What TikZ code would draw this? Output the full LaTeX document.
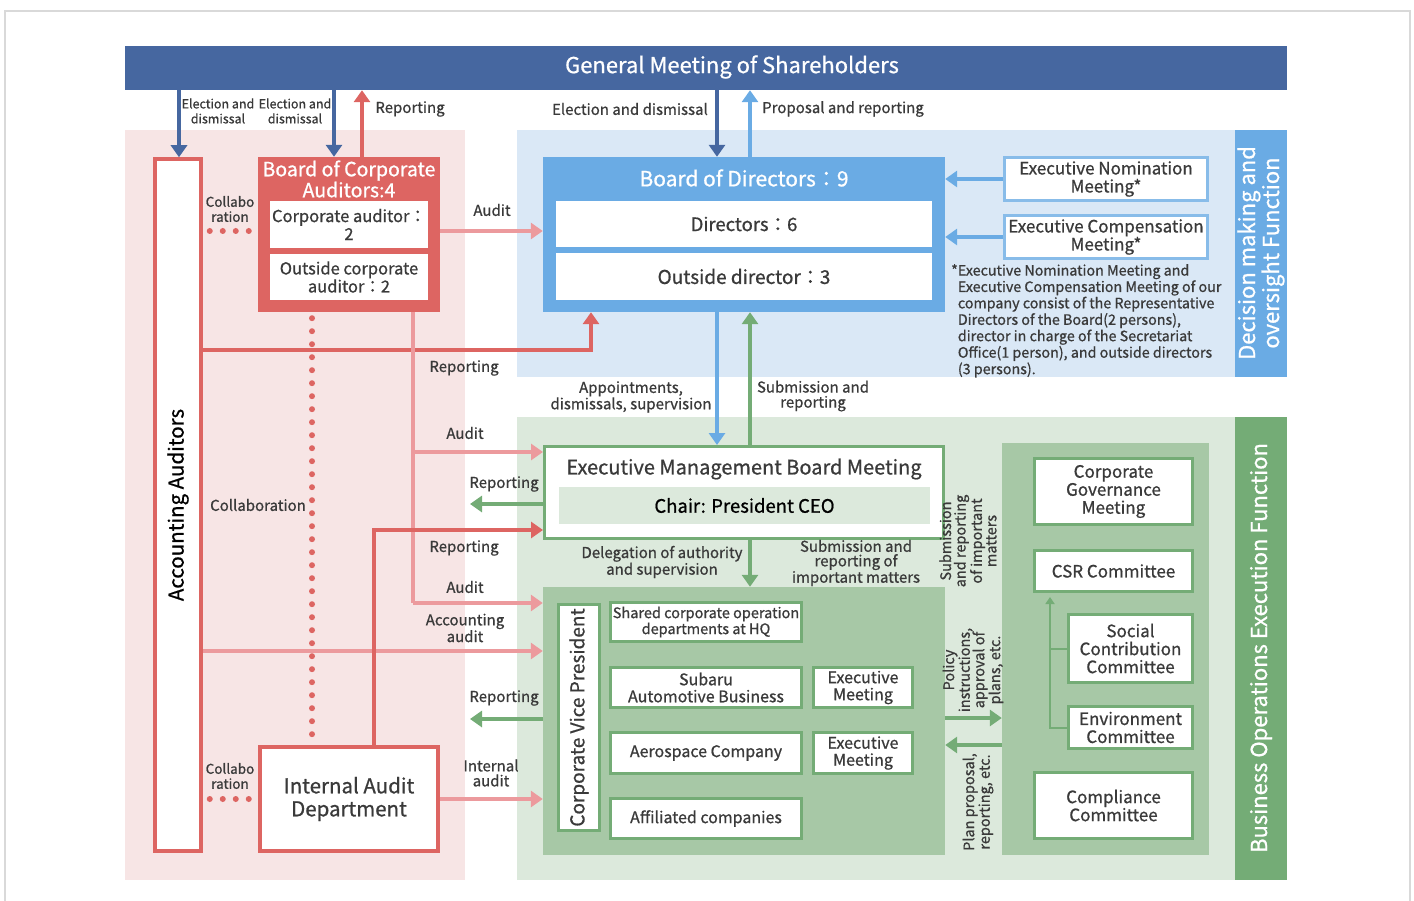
\documentclass[tikz,border=0pt]{standalone}
\usepackage{fontspec}
\setmainfont{Noto Sans CJK JP}[FakeBold=0.8]
\usetikzlibrary{arrows.meta}
\definecolor{navy}{HTML}{4667A0}
\definecolor{skyblue}{HTML}{6AABE4}
\definecolor{paleblue}{HTML}{DAE8F6}
\definecolor{palepink}{HTML}{F7E5E5}
\definecolor{audred}{HTML}{DD6562}
\definecolor{audpink}{HTML}{EC9A9D}
\definecolor{execgreen}{HTML}{74AC76}
\definecolor{palegreen}{HTML}{DCE9DC}
\definecolor{midgreen}{HTML}{A7C8A6}
\definecolor{ink}{HTML}{3A3A3A}
\begin{document}
\begin{tikzpicture}[x=1pt, y=-1pt,
    box/.style={fill=white, inner sep=0pt, align=center, text=ink, font=\fontsize{16.5}{18}\selectfont},
    gbox/.style={box, draw=execgreen, line width=3pt},
    rbox/.style={box, draw=audred, line width=3.5pt},
    bbox/.style={box, draw=skyblue!80, line width=3pt},
    lbl/.style={inner sep=0pt, align=center, text=ink, font=\fontsize{15}{15}\selectfont},
    slbl/.style={lbl, font=\fontsize{12.5}{15}\selectfont},
    tab/.style={rotate=90, text=white, align=center, inner sep=0pt, font=\fontsize{22}{22}\selectfont},
    arr/.style={line width=4pt, -{Triangle[width=16pt,length=12pt]}},
    dots/.style={audred, line width=6pt, line cap=round, dash pattern=on 0pt off 13pt},
    >=stealth
]
\useasboundingbox (0,0) rectangle (1414,901);
% backgrounds
\draw[black!15, line width=1.5pt] (5,905) -- (5,11) -- (1410,11) -- (1410,905);
\fill[palepink] (125,130) rectangle (465,880);
\fill[paleblue] (517,130) rectangle (1235,377);
\fill[skyblue] (1235,130) rectangle (1287,377);
\fill[palegreen] (517,417) rectangle (1235,880);
\fill[execgreen] (1235,417) rectangle (1287,880);
\node[tab] (fnDec) at (1261,253) {Decision making and\\oversight Function};
\node[tab] (fnBiz) at (1261,648) {Business Operations Execution Function};

% shareholders
\node[fill=navy, minimum width=1162pt, minimum height=44pt, inner sep=0pt] (gms) at (706,68) {};
\node[text=white, inner sep=0pt, font=\fontsize{22}{22}\selectfont] (gmsT) at (732,67) {General Meeting of Shareholders};

% audit side
\node[rbox, minimum width=46pt, minimum height=692pt] (acc) at (178,505) {};
\node[rotate=90, text=black, inner sep=0pt, font=\fontsize{20.5}{21}\selectfont] (accT) at (acc.center) {Accounting Auditors};
\node[fill=audred, minimum width=182pt, minimum height=155pt, inner sep=0pt] (boca) at (349,234.5) {};
\node[text=white, align=center, inner sep=0pt, font=\fontsize{19.5}{19}\selectfont] (bocaT) at (349,179) {Board of Corporate\\Auditors:4};
\node[box, minimum width=158pt, minimum height=47pt] (ca1) at (349,224.5) {Corporate auditor：\\2};
\node[box, minimum width=158pt, minimum height=46pt] (ca2) at (349,277) {Outside corporate\\auditor：2};
\node[rbox, minimum width=178pt, minimum height=104pt, font=\fontsize{20.5}{23}\selectfont] (iad) at (349,799) {Internal Audit\\Department};

% board of directors
\node[fill=skyblue, minimum width=402pt, minimum height=155pt, inner sep=0pt] (bod) at (744,234.5) {};
\node[text=white, inner sep=0pt, font=\fontsize{21}{21}\selectfont] (bodT) at (744,178) {Board of Directors：9};
\node[box, minimum width=376pt, minimum height=46pt, font=\fontsize{18.5}{20}\selectfont] (dir) at (744,224) {Directors：6};
\node[box, minimum width=376pt, minimum height=47pt, font=\fontsize{19}{20}\selectfont] (odir) at (744,276.5) {Outside director：3};
\node[bbox, minimum width=203pt, minimum height=43pt, font=\fontsize{17}{18}\selectfont] (nom) at (1106,179) {Executive Nomination\\Meeting*};
\node[bbox, minimum width=203pt, minimum height=43pt, font=\fontsize{17}{18}\selectfont] (comp) at (1106,237) {Executive Compensation\\Meeting*};
\node[anchor=north west, inner sep=0pt, text=ink, font=\fontsize{14.3}{16}\selectfont] (note) at (951,264) {%
  \begin{tabular}{@{}l@{}l@{}}
  *&Executive Nomination Meeting and\\
   &Executive Compensation Meeting of our\\
   &company consist of the Representative\\
   &Directors of the Board(2 persons),\\
   &director in charge of the Secretariat\\
   &Office(1 person), and outside directors\\
   &(3 persons).
  \end{tabular}};

% execution side
\node[gbox, minimum width=399pt, minimum height=92pt] (emb) at (744,492.5) {};
\node[text=ink, inner sep=0pt, font=\fontsize{20}{21}\selectfont] (embT) at (744,469) {Executive Management Board Meeting};
\node[fill=palegreen, text=black, minimum width=371pt, minimum height=37pt, inner sep=0pt, font=\fontsize{18.5}{20}\selectfont] (chair) at (744.5,505.5) {Chair: President CEO};
\node[fill=midgreen, minimum width=402pt, minimum height=268pt, inner sep=0pt] (sub) at (744,721) {};
\node[gbox, minimum width=41pt, minimum height=226pt] (cvp) at (579,717.5) {};
\node[rotate=90, text=ink, inner sep=0pt, font=\fontsize{19}{20}\selectfont] (cvpT) at (cvp.center) {Corporate Vice President};
\node[gbox, minimum width=191pt, minimum height=39pt, font=\fontsize{14.5}{16}\selectfont] (shq) at (706,622) {Shared corporate operation\\departments at HQ};
\node[gbox, minimum width=191pt, minimum height=40pt, font=\fontsize{16}{17}\selectfont] (sab) at (706,687.5) {Subaru\\Automotive Business};
\node[gbox, minimum width=99pt, minimum height=40pt, font=\fontsize{16}{17}\selectfont] (em1) at (863,687.5) {Executive\\Meeting};
\node[gbox, minimum width=191pt, minimum height=41pt, font=\fontsize{16}{17}\selectfont] (aer) at (706,753) {Aerospace Company};
\node[gbox, minimum width=99pt, minimum height=41pt, font=\fontsize{16}{17}\selectfont] (em2) at (863,753) {Executive\\Meeting};
\node[gbox, minimum width=191pt, minimum height=40pt, font=\fontsize{16}{17}\selectfont] (aff) at (706,818.5) {Affiliated companies};

\node[fill=midgreen, minimum width=207pt, minimum height=412pt, inner sep=0pt] (com) at (1105.5,649) {};
\node[gbox, minimum width=158pt, minimum height=66pt, font=\fontsize{17}{18}\selectfont] (cgm) at (1113.5,491.5) {Corporate\\Governance\\Meeting};
\node[gbox, minimum width=158pt, minimum height=41pt, font=\fontsize{17}{18}\selectfont] (csr) at (1113.5,571) {CSR Committee};
\node[gbox, minimum width=124pt, minimum height=68pt, font=\fontsize{17}{18}\selectfont] (soc) at (1130.5,648.5) {Social\\Contribution\\Committee};
\node[gbox, minimum width=124pt, minimum height=42pt, font=\fontsize{17}{18}\selectfont] (env) at (1130.5,727.5) {Environment\\Committee};
\node[gbox, minimum width=158pt, minimum height=66pt, font=\fontsize{17}{18}\selectfont] (cmp) at (1113.5,805.5) {Compliance\\Committee};

% coordinates for bends
\coordinate (xa) at (179,0);
\coordinate (xb) at (334,0);
\coordinate (xc) at (362,0);
\coordinate (xd) at (717,0);
\coordinate (xe) at (750,0);
\coordinate (xk) at (1050,0);
\coordinate (dv) at (312,0);
\coordinate (yc) at (0,231);
\coordinate (repA) at (591,350);
\coordinate (audA) at (413,452);
\coordinate (audB) at (413,603);
\coordinate (accA) at (300,651);
\coordinate (repB) at (374,530);
\coordinate (grA) at (470,504);
\coordinate (grB) at (470,719);
\coordinate (pol) at (0,718);
\coordinate (pln) at (0,745);

% shareholders arrows
\draw[arr, navy] (xa |- gms.south) -- (xa |- acc.north);
\draw[arr, navy] (xb |- gms.south) -- (xb |- boca.north);
\draw[arr, audred] (xc |- boca.north) -- (xc |- gms.south);
\draw[arr, navy] (xd |- gms.south) -- (xd |- bod.north);
\draw[arr, skyblue] (xe |- bod.north) -- (xe |- gms.south);
\node[slbl] (lElecA) at (218,111) {Election and\\dismissal};
\node[slbl] (lElecB) at (295,111) {Election and\\dismissal};
\node[lbl] (lRepA) at (410,109) {Reporting};
\node[lbl, anchor=east] (lElecC) at (708,109) {Election and dismissal};
\node[lbl, anchor=west] (lProp) at (762,109) {Proposal and reporting};

% collaboration
\draw[dots, shorten <=7pt, shorten >=6pt] (acc.east |- yc) -- (boca.west |- yc);
\draw[dots, shorten <=6pt, shorten >=7pt] (dv |- boca.south) -- (dv |- iad.north);
\draw[dots, shorten <=7pt, shorten >=6pt] (acc.east |- iad.west) -- (iad.west);
\node[lbl, font=\fontsize{13.5}{15}\selectfont] (lColA) at (230,209) {Collabo\\ration};
\node[lbl] (lColB) at (258,505) {Collaboration};
\node[lbl, font=\fontsize{13.5}{15}\selectfont] (lColC) at (230,776) {Collabo\\ration};

% audits and reporting
\draw[arr, audpink] (boca.east |- yc) -- (bod.west |- yc);
\node[lbl] (lAudA) at (492,210) {Audit};
\draw[audred, line width=3.5pt, -{Triangle[width=16pt,length=12pt]}] (acc.east |- repA) -- (repA) -- (repA |- bod.south);
\node[lbl] (lRepB) at (464,368) {Reporting};
\draw[audpink, line width=4pt] (audA |- boca.south) -- (audB);
\draw[arr, audpink] (audA) -- (audA -| emb.west);
\draw[arr, audpink] (audB) -- (audB -| sub.west);
\node[lbl] (lAudB) at (465,433) {Audit};
\node[lbl] (lAudC) at (465,587) {Audit};
\draw[arr, audpink] (acc.east |- accA) -- (accA -| sub.west);
\node[lbl] (lAccAud) at (465,628) {Accounting\\audit};
\draw[audred, line width=3.5pt, -{Triangle[width=16pt,length=12pt]}] (repB |- iad.north) -- (repB) -- (repB -| emb.west);
\node[lbl] (lRepC) at (464,548) {Reporting};
\draw[arr, execgreen] (emb.west |- grA) -- (grA);
\node[lbl] (lRepD) at (504,484) {Reporting};
\draw[arr, execgreen] (sub.west |- grB) -- (grB);
\node[lbl] (lRepE) at (504,698) {Reporting};
\draw[arr, audpink] (iad.east) -- (iad.east -| sub.west);
\node[lbl] (lIntAud) at (491,773) {Internal\\audit};

% board and execution
\draw[arr, skyblue] (xd |- bod.south) -- (xd |- emb.north);
\draw[arr, execgreen] (xe |- emb.north) -- (xe |- bod.south);
\node[lbl] (lAppt) at (631,397) {Appointments,\\dismissals, supervision};
\node[lbl] (lSubA) at (813,396) {Submission and\\reporting};
\draw[arr, skyblue] (nom.west) -- (nom.west -| bod.east);
\draw[arr, skyblue] (comp.west) -- (comp.west -| bod.east);
\draw[arr, execgreen] (xe |- emb.south) -- (xe |- sub.north);
\node[lbl] (lDeleg) at (662,562) {Delegation of authority\\and supervision};
\node[lbl, font=\fontsize{15}{14.5}\selectfont] (lSubB) at (856,563) {Submission and\\reporting of\\important matters};

% committees
\draw[arr, execgreen] (sub.east |- pol) -- (com.west |- pol);
\draw[arr, execgreen] (com.west |- pln) -- (sub.east |- pln);
\node[lbl, rotate=90, font=\fontsize{14.5}{14.5}\selectfont] (lSubC) at (968,541) {Submission\\and reporting\\of important\\matters};
\node[lbl, rotate=90, font=\fontsize{14.5}{14.5}\selectfont] (lPol) at (973,670) {Policy\\instructions,\\approval of\\plans, etc.};
\node[lbl, rotate=90, font=\fontsize{14.5}{14.5}\selectfont] (lPlan) at (978,802) {Plan proposal,\\reporting, etc.};
\draw[execgreen, line width=2pt, -{Triangle[width=9pt,length=7pt]}] (env.west) -- (xk |- env.west) -- ([yshift=-4pt]xk |- csr.south);
\draw[execgreen, line width=2pt] (soc.west) -- (xk |- soc.west);
\end{tikzpicture}
\end{document}
